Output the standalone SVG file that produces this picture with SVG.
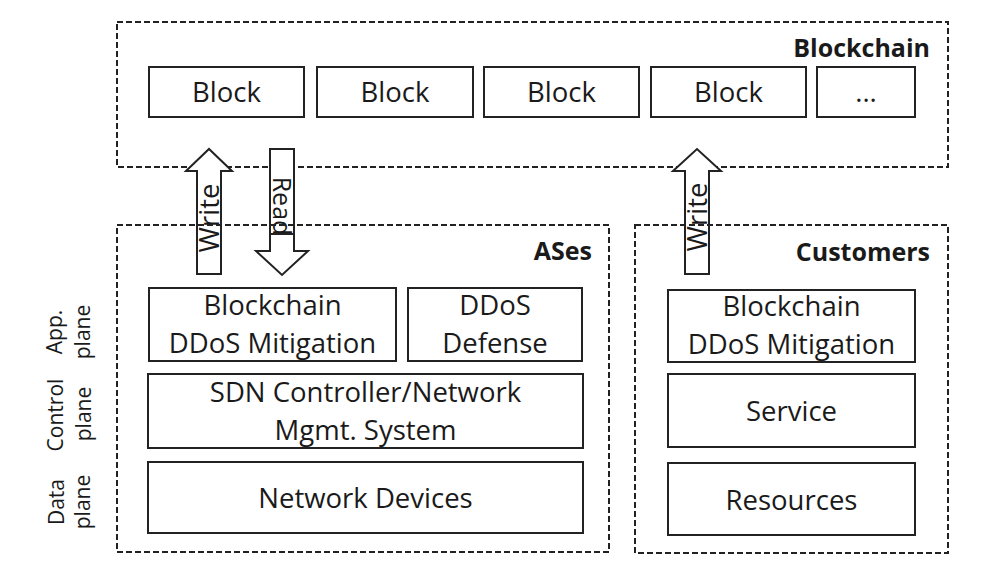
<svg xmlns="http://www.w3.org/2000/svg" width="984" height="582" viewBox="0 0 984 582">
<style>
  .dash { fill: none; stroke: #222; stroke-width: 2; stroke-dasharray: 6 3; }
  .box { fill: #fff; stroke: #222; stroke-width: 2; }
  .arrow { fill: #fff; stroke: #222; stroke-width: 2; stroke-linejoin: miter; }
  .t { font-family: "Open Sans", "Liberation Sans", sans-serif; font-size: 27.5px; fill: #1a1a1a; text-anchor: middle; }
  .title { font-family: "Open Sans", "Liberation Sans", sans-serif; font-size: 25px; font-weight: bold; fill: #1a1a1a; text-anchor: end; }
  .side { font-family: "Open Sans", "Liberation Sans", sans-serif; font-size: 21px; fill: #1a1a1a; text-anchor: middle; }
</style>
<rect width="984" height="582" fill="#fff"/>

<g id="blockchain">
  <rect class="dash" x="117" y="22" width="831" height="145"/>
  <text class="title" x="930" y="57">Blockchain</text>
</g>
<g id="block1"><rect class="box" x="149" y="67" width="155" height="50"/><text class="t" x="226.5" y="102">Block</text></g>
<g id="block2"><rect class="box" x="317" y="67" width="156" height="50"/><text class="t" x="395" y="102">Block</text></g>
<g id="block3"><rect class="box" x="484" y="67" width="155" height="50"/><text class="t" x="561.5" y="102">Block</text></g>
<g id="block4"><rect class="box" x="651" y="67" width="155" height="50"/><text class="t" x="728.5" y="102">Block</text></g>
<g id="block5"><rect class="box" x="817" y="67" width="98" height="50"/><text class="t" x="866" y="102">...</text></g>

<g id="connectors">
  <g id="write-ases">
    <polygon class="arrow" points="197,274 197,171 186,171 209,149 232,171 221,171 221,274"/>
    <text class="t" transform="translate(219,218) rotate(-90)">Write</text>
  </g>
  <g id="read-ases">
    <polygon class="arrow" points="270,149 294,149 294,251 308,251 282,275 256,251 270,251"/>
    <line x1="270" y1="234" x2="294" y2="234" stroke="#222" stroke-width="2"/>
    <text class="t" style="font-size:25px" transform="translate(273,206) rotate(90)">Read</text>
  </g>
  <g id="write-customers">
    <polygon class="arrow" points="685,274 685,171 673,171 697,149 721,171 709,171 709,274"/>
    <text class="t" transform="translate(707,217) rotate(-90)">Write</text>
  </g>
</g>

<g id="ases">
  <rect class="dash" x="117" y="225" width="492" height="327"/>
  <text class="title" x="592" y="260">ASes</text>
</g>
<g id="customers">
  <rect class="dash" x="635" y="225" width="313" height="328"/>
  <text class="title" x="930" y="261">Customers</text>
</g>

<g id="ases-bc-mitigation">
  <rect class="box" x="149" y="288" width="247" height="73"/>
  <text class="t" x="272.5" y="315">Blockchain</text>
  <text class="t" x="272.5" y="353">DDoS Mitigation</text>
</g>
<g id="ddos-defense">
  <rect class="box" x="408" y="288" width="174" height="73"/>
  <text class="t" x="495" y="315">DDoS</text>
  <text class="t" x="495" y="353">Defense</text>
</g>
<g id="sdn-controller">
  <rect class="box" x="148" y="374" width="435" height="74"/>
  <text class="t" x="365.5" y="402">SDN Controller/Network</text>
  <text class="t" x="365.5" y="440">Mgmt. System</text>
</g>
<g id="network-devices">
  <rect class="box" x="148" y="462" width="435" height="71"/>
  <text class="t" x="365.5" y="508">Network Devices</text>
</g>

<g id="cust-bc-mitigation">
  <rect class="box" x="668" y="290" width="247" height="72"/>
  <text class="t" x="791.5" y="316">Blockchain</text>
  <text class="t" x="791.5" y="354">DDoS Mitigation</text>
</g>
<g id="service">
  <rect class="box" x="668" y="374" width="247" height="73"/>
  <text class="t" x="791.5" y="421">Service</text>
</g>
<g id="resources">
  <rect class="box" x="668" y="463" width="247" height="72"/>
  <text class="t" x="791.5" y="510">Resources</text>
</g>

<g id="plane-labels">
  <text class="side" transform="translate(62,332) rotate(-90)">App.</text>
  <text class="side" transform="translate(90,332) rotate(-90)">plane</text>
  <text class="side" transform="translate(63,415) rotate(-90)">Control</text>
  <text class="side" transform="translate(91,414) rotate(-90)">plane</text>
  <text class="side" transform="translate(64,502) rotate(-90)">Data</text>
  <text class="side" transform="translate(90,502) rotate(-90)">plane</text>
</g>
</svg>
